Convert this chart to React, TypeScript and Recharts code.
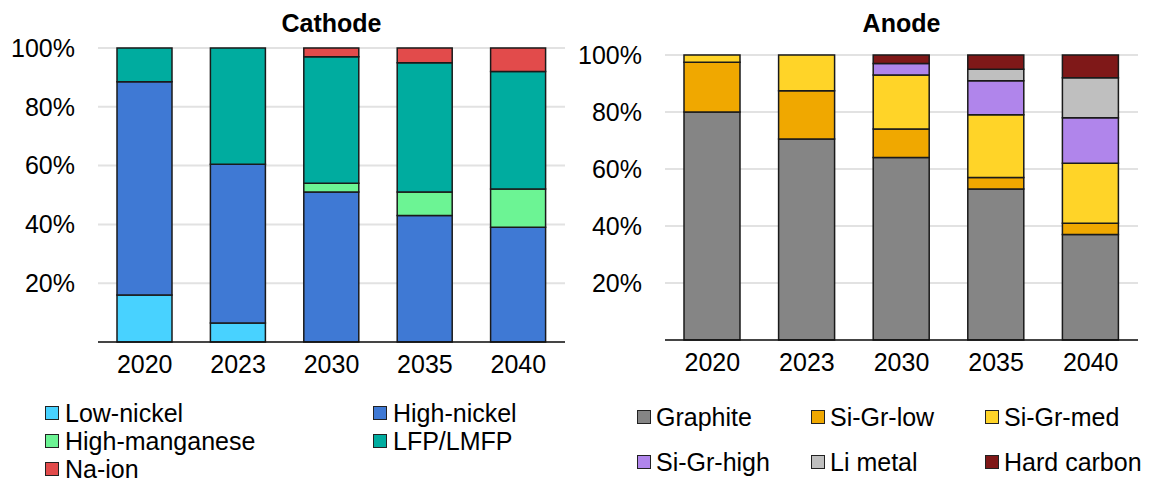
import React from 'react';
import { BarChart, Bar, XAxis, YAxis, CartesianGrid } from 'recharts';

// categories
const years = ['2020', '2023', '2030', '2035', '2040'];

// cathode shares (%)
const lowNickel = [16, 6.5, 0, 0, 0];
const highNickel = [72.5, 54, 51, 43, 39];
const highManganese = [0, 0, 3, 8, 13];
const lfpLmfp = [11.5, 39.5, 43, 44, 40];
const naIon = [0, 0, 3, 5, 8];

// anode shares (%)
const graphite = [80, 70.5, 64, 53, 37];
const siGrLow = [17.5, 17, 10, 4, 4];
const siGrMed = [2.5, 12.5, 19, 22, 21];
const siGrHigh = [0, 0, 4, 12, 16];
const liMetal = [0, 0, 0, 4, 14];
const hardCarbon = [0, 0, 3, 5, 8];

const yTicks = [20, 40, 60, 80, 100];

const FONT = '"Liberation Sans", Arial, sans-serif';

interface Series {
  key: string;
  name: string;
  values: number[];
  color: string;
}

const cathodeSeries: Series[] = [
  { key: 'lowNickel', name: 'Low-nickel', values: lowNickel, color: '#48d2ff' },
  { key: 'highNickel', name: 'High-nickel', values: highNickel, color: '#3f79d4' },
  { key: 'highManganese', name: 'High-manganese', values: highManganese, color: '#6cf494' },
  { key: 'lfpLmfp', name: 'LFP/LMFP', values: lfpLmfp, color: '#00ac9f' },
  { key: 'naIon', name: 'Na-ion', values: naIon, color: '#e24b4b' },
];

const anodeSeries: Series[] = [
  { key: 'graphite', name: 'Graphite', values: graphite, color: '#858585' },
  { key: 'siGrLow', name: 'Si-Gr-low', values: siGrLow, color: '#f0a800' },
  { key: 'siGrMed', name: 'Si-Gr-med', values: siGrMed, color: '#ffd428' },
  { key: 'siGrHigh', name: 'Si-Gr-high', values: siGrHigh, color: '#b085eb' },
  { key: 'liMetal', name: 'Li metal', values: liMetal, color: '#bfbfbf' },
  { key: 'hardCarbon', name: 'Hard carbon', values: hardCarbon, color: '#7f1818' },
];

const buildRows = (series: Series[]) =>
  years.map((year, i) => {
    const row: Record<string, any> = { year };
    series.forEach(s => {
      row[s.key] = s.values[i];
    });
    return row;
  });

interface ChartProps {
  title: string;
  series: Series[];
  left: number;
  width: number;
  yAxisWidth: number;
  marginTop: number;
  marginRight: number;
  marginBottom: number;
  barSize: number;
}

function StackChart({ title, series, left, width, yAxisWidth, marginTop, marginRight, marginBottom, barSize }: ChartProps) {
  const height = 390;
  const plotWidth = width - yAxisWidth - marginRight;
  return (
    <div style={{ position: 'absolute', left, top: 0, width, height }}>
      <div
        style={{
          position: 'absolute',
          left: yAxisWidth,
          width: plotWidth,
          top: 10.5,
          textAlign: 'center',
          fontFamily: FONT,
          fontSize: 25,
          lineHeight: '25px',
          fontWeight: 'bold',
          color: '#000',
        }}
      >
        {title}
      </div>
      <BarChart
        width={width}
        height={height}
        data={buildRows(series)}
        margin={{ top: marginTop, right: marginRight, left: 0, bottom: marginBottom }}
        barSize={barSize}
      >
        <CartesianGrid vertical={false} stroke="#e2e2e2" strokeWidth={2} />
        <XAxis
          dataKey="year"
          interval={0}
          tickLine={false}
          tickSize={0}
          tickMargin={13}
          height={40}
          axisLine={{ stroke: '#111', strokeWidth: 1.5 }}
          tick={{ fill: '#000', fontSize: 25, fontFamily: FONT }}
        />
        <YAxis
          type="number"
          domain={[0, 100]}
          ticks={yTicks}
          interval={0}
          width={yAxisWidth}
          axisLine={false}
          tickLine={false}
          tickSize={0}
          tickMargin={23}
          tickFormatter={(v: number) => `${v}%`}
          tick={{ fill: '#000', fontSize: 25, fontFamily: FONT }}
        />
        {series.map(s => (
          <Bar
            key={s.key}
            dataKey={s.key}
            name={s.name}
            stackId="a"
            fill={s.color}
            stroke="#1a1a1a"
            strokeWidth={1.5}
            isAnimationActive={false}
          />
        ))}
      </BarChart>
    </div>
  );
}

function LegendItem({ s, x, y, textGap }: { s: Series; x: number; y: number; textGap: number }) {
  return (
    <div
      style={{
        position: 'absolute',
        left: x,
        top: y - 12,
        height: 24,
        lineHeight: '24px',
        display: 'flex',
        alignItems: 'center',
        fontFamily: FONT,
        fontSize: 25,
        color: '#000',
        whiteSpace: 'nowrap',
      }}
    >
      <div
        style={{
          width: 14,
          height: 14,
          boxSizing: 'border-box',
          border: '1.5px solid #222',
          background: s.color,
        }}
      />
      <span style={{ marginLeft: textGap }}>{s.name}</span>
    </div>
  );
}

export default function App() {
  const cathodeCols = [45, 373];
  const cathodeRows = [413, 441, 469];
  const anodeCols = [637, 811, 985];
  const anodeRows = [417, 462];

  return (
    <div style={{ position: 'absolute', left: 0, top: 0, width: 1158, height: 482, background: '#fff', overflow: 'hidden' }}>
      <StackChart
        title="Cathode"
        series={cathodeSeries}
        left={0}
        width={580}
        yAxisWidth={98}
        marginTop={48}
        marginRight={15}
        marginBottom={8}
        barSize={55}
      />
      <StackChart
        title="Anode"
        series={anodeSeries}
        left={570}
        width={588}
        yAxisWidth={95}
        marginTop={55}
        marginRight={20}
        marginBottom={10}
        barSize={56}
      />
      {cathodeSeries.map((s, i) => (
        <LegendItem key={s.key} s={s} x={cathodeCols[i % 2]} y={cathodeRows[Math.floor(i / 2)]} textGap={6} />
      ))}
      {anodeSeries.map((s, i) => (
        <LegendItem key={s.key} s={s} x={anodeCols[i % 3]} y={anodeRows[Math.floor(i / 3)]} textGap={5} />
      ))}
    </div>
  );
}
